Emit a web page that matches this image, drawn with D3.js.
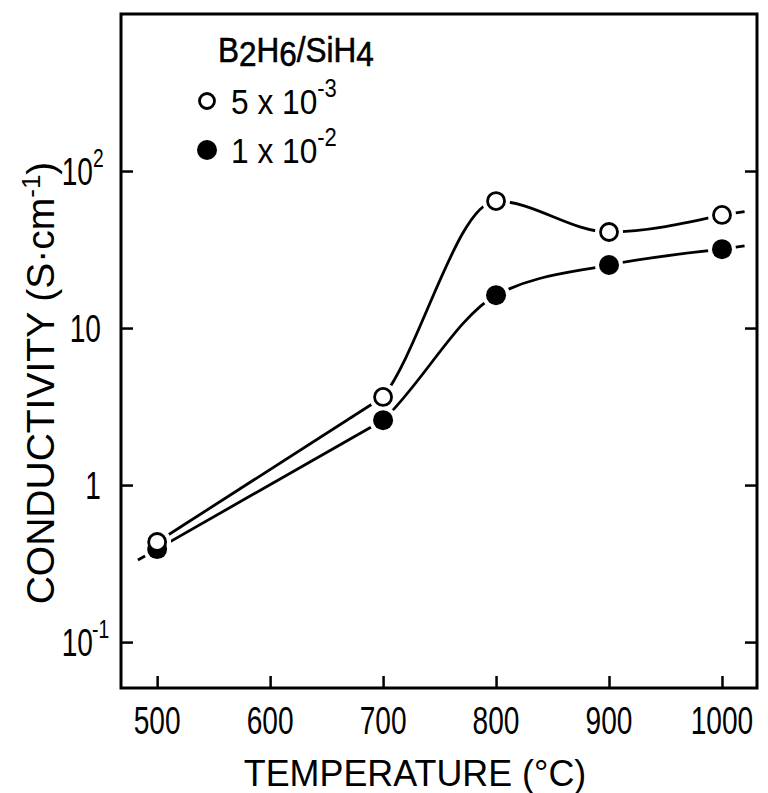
<!DOCTYPE html>
<html><head><meta charset="utf-8">
<script src="https://cdn.jsdelivr.net/npm/d3@7"></script>
<style>
html,body{margin:0;padding:0;background:#fff;}
svg{display:block;}
text{font-family:"Liberation Sans",Arial,Helvetica,sans-serif;fill:#000;}
</style></head>
<body>
<script>
// ---- data ----
const temperatures = [500, 700, 800, 900, 1000];
const conductivityOpen = [0.434, 3.64, 64.4, 40.9, 52.5];     // B2H6/SiH4 = 5x10^-3
const conductivityFilled = [0.391, 2.59, 16.2, 25.2, 31.8];   // B2H6/SiH4 = 1x10^-2
const xTickValues = [500, 600, 700, 800, 900, 1000];
const yTickValues = [0.1, 1, 10, 100];
const yTickBase = ["10", "1", "10", "10"];
const yTickExp = ["-1", "", "", "2"];
const legendLabels = [["5 x 10", "-3"], ["1 x 10", "-2"]];
const extendLeftTo = 483, extendRightTo = 1020;

const W = 768, H = 793;
const svg = d3.select("body").append("svg").attr("width", W).attr("height", H);

const x = d3.scaleLinear().domain([468, 1031]).range([121, 757]);
const y = d3.scaleLog().domain([0.051, 1000]).range([688, 14]);

const g = svg.append("g");

// frame
g.append("rect").attr("x", x.range()[0]).attr("y", y.range()[1])
  .attr("width", x.range()[1] - x.range()[0]).attr("height", y.range()[0] - y.range()[1])
  .attr("fill", "none").attr("stroke", "#000").attr("stroke-width", 3);

// axes with inward ticks
const xAxis = d3.axisBottom(x).tickValues(xTickValues).tickSize(-12).tickFormat("");
g.append("g").attr("transform", `translate(0,${y.range()[0]})`).call(xAxis)
  .call(s => { s.select(".domain").remove(); s.selectAll("line").attr("stroke-width", 2.5); });
const yAxisL = d3.axisLeft(y).tickValues(yTickValues).tickSize(-12).tickFormat("");
g.append("g").attr("transform", `translate(${x.range()[0]},0)`).call(yAxisL)
  .call(s => { s.select(".domain").remove(); s.selectAll("line").attr("stroke-width", 2.5); });
const yAxisR = d3.axisRight(y).tickValues(yTickValues).tickSize(-12).tickFormat("");
g.append("g").attr("transform", `translate(${x.range()[1]},0)`).call(yAxisR)
  .call(s => { s.select(".domain").remove(); s.selectAll("line").attr("stroke-width", 2.5); });

// x tick labels (condensed)
xTickValues.forEach(v => {
  g.append("text").attr("transform", `translate(${x(v)},734) scale(0.74,1)`)
    .attr("text-anchor", "middle").attr("font-size", 38).text(v);
});
// y tick labels
yTickValues.forEach((v, i) => {
  const hasExp = !!yTickExp[i];
  g.append("text").attr("transform", `translate(${hasExp ? 93 : 101},${y(v) + 14}) scale(0.74,1)`)
    .attr("text-anchor", "end").attr("font-size", 38).text(yTickBase[i]);
  if (hasExp) {
    g.append("text").attr("transform", `translate(${yTickExp[i] === "-1" ? 92 : 93},${y(v) - 4}) scale(0.74,1)`)
      .attr("font-size", 26).text(yTickExp[i]);
  }
});

// axis titles
g.append("text").attr("transform", "translate(415,786) scale(0.97,1)").attr("text-anchor", "middle")
  .attr("font-size", 37).text("TEMPERATURE (°C)");
const yl = g.append("text").attr("transform", "translate(54,383) rotate(-90)")
  .attr("text-anchor", "middle").attr("font-size", 39);
yl.append("tspan").text("CONDUCTIVITY (S·cm");
yl.append("tspan").attr("font-size", 26).attr("dy", -14).text("-1");
yl.append("tspan").attr("dy", 14).text(")");

// series: straight log-linear segment 500-700, smooth curve beyond
const clip = svg.append("clipPath").attr("id", "rightPart");
clip.append("rect").attr("x", x(temperatures[1])).attr("y", 0).attr("width", W).attr("height", H);
const seriesList = [
  {vals: conductivityFilled, filled: true},
  {vals: conductivityOpen, filled: false}
];
const smooth = d3.line().x(d => x(d[0])).y(d => y(d[1])).curve(d3.curveMonotoneX);
const straight = d3.line().x(d => x(d[0])).y(d => y(d[1]));
seriesList.forEach(s => {
  const pts = temperatures.map((t, i) => [t, s.vals[i]]);
  g.append("path").attr("d", smooth(pts)).attr("clip-path", "url(#rightPart)")
    .attr("fill", "none").attr("stroke", "#000").attr("stroke-width", 2.8);
  g.append("path").attr("d", straight(pts.slice(0, 2)))
    .attr("fill", "none").attr("stroke", "#000").attr("stroke-width", 2.8);
  // extensions following the end segments (log-linear)
  const n = pts.length;
  if (s.filled) {
    const slopeL = (Math.log10(pts[1][1]) - Math.log10(pts[0][1])) / (pts[1][0] - pts[0][0]);
    const vL = Math.pow(10, Math.log10(pts[0][1]) + slopeL * (extendLeftTo - pts[0][0]));
    g.append("path").attr("d", straight([[extendLeftTo, vL], pts[0]]))
      .attr("fill", "none").attr("stroke", "#000").attr("stroke-width", 2.8);
  }
  const slopeR = (Math.log10(pts[n-1][1]) - Math.log10(pts[n-2][1])) / (pts[n-1][0] - pts[n-2][0]);
  const vR = Math.pow(10, Math.log10(pts[n-1][1]) + slopeR * (extendRightTo - pts[n-1][0]));
  g.append("path").attr("d", straight([pts[n-1], [extendRightTo, vR]]))
    .attr("fill", "none").attr("stroke", "#000").attr("stroke-width", 2.8);
});
// white halos create gaps around markers
seriesList.forEach(s => {
  g.selectAll(null).data(temperatures.map((t, i) => [t, s.vals[i]])).enter().append("circle")
    .attr("cx", d => x(d[0])).attr("cy", d => y(d[1])).attr("r", 14).attr("fill", "#fff");
});
seriesList.forEach(s => {
  g.selectAll(null).data(temperatures.map((t, i) => [t, s.vals[i]])).enter().append("circle")
    .attr("cx", d => x(d[0])).attr("cy", d => y(d[1]))
    .attr("r", s.filled ? 10 : 8.5)
    .attr("fill", s.filled ? "#000" : "#fff")
    .attr("stroke", "#000").attr("stroke-width", s.filled ? 0 : 2.8);
});

// legend
const lt = g.append("text").attr("transform", "translate(218,62) scale(0.9,1)").attr("font-size", 35)
  .attr("stroke", "#000").attr("stroke-width", 0.6);
lt.append("tspan").text("B");
lt.append("tspan").attr("dy", 4).text("2");
lt.append("tspan").attr("dy", -4).text("H");
lt.append("tspan").attr("dy", 4).text("6");
lt.append("tspan").attr("dy", -4).text("/SiH");
lt.append("tspan").attr("dy", 4).text("4");

const legY = [101, 150];
legendLabels.forEach((lab, i) => {
  g.append("circle").attr("cx", 207).attr("cy", legY[i]).attr("r", i === 0 ? 7.5 : 10)
    .attr("fill", i === 0 ? "#fff" : "#000").attr("stroke", "#000").attr("stroke-width", i === 0 ? 2.8 : 0);
  const t = g.append("text").attr("transform", `translate(231,${legY[i] + 13}) scale(0.88,1)`).attr("font-size", 36);
  t.append("tspan").text(lab[0]);
  t.append("tspan").attr("dy", -17).attr("font-size", 25).text(lab[1]);
});
</script>
</body></html>
